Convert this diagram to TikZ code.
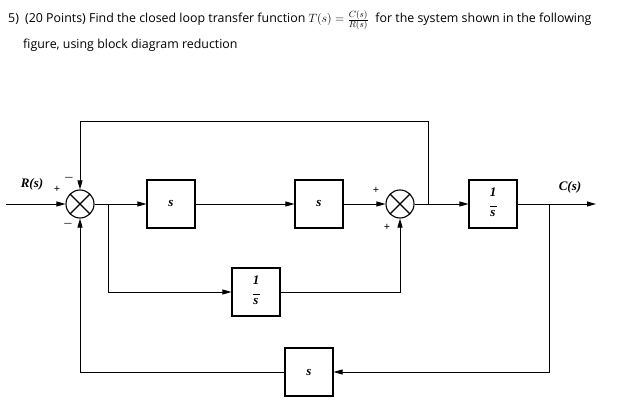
\documentclass[tikz,border=0pt]{standalone}
\usepackage{amsmath}
\usepackage{fontspec}
\setmainfont{Liberation Serif}
\newfontfamily\hdr{Open Sans}
\usetikzlibrary{arrows.meta}
\newcommand{\fr}{\ensuremath{\vcenter{\hbox{\begin{tabular}{@{}c@{}}\bfseries\itshape 1\\[-3pt]\rule{7pt}{0.6pt}\\[-3pt]\bfseries\itshape s\end{tabular}}}}}
\begin{document}
\begin{tikzpicture}[x=1pt,y=-1pt,
  blk/.style={draw,line width=1.1pt,minimum width=48pt,minimum height=48pt,inner sep=0pt,font=\itshape\bfseries\fontsize{13}{13}\selectfont},
  sum/.style={draw,circle,line width=1.1pt,minimum size=28pt,inner sep=0pt,path picture={\draw[line width=1.1pt] (path picture bounding box.north west)--(path picture bounding box.south east) (path picture bounding box.north east)--(path picture bounding box.south west);}},
  ln/.style={line width=0.9pt},
  ar/.style={ln,-{Triangle[length=9pt,width=5pt]}},
  sg/.style={font=\bfseries\fontsize{11}{11}\selectfont}]
\useasboundingbox (0,0) rectangle (626,403);
\node[anchor=base west,inner sep=0pt,font=\hdr\fontsize{12.4}{14}\selectfont] (t1) at (8,23) {5)\enspace(20 Points) Find the closed loop transfer function $T(s)=\genfrac{}{}{0.4pt}{}{\scriptstyle C(s)}{\scriptstyle R(s)}$\; for the system shown in the following};
\node[anchor=base west,inner sep=0pt,font=\hdr\fontsize{12.4}{14}\selectfont] (t2) at (23,49) {figure, using block diagram reduction};
\node[sum] (s1) at (80,204) {};
\node[sum] (s2) at (400,204) {};
\node[blk] (b1) at (171,204) {s};
\node[blk] (b2) at (319,204) {s};
\node[blk] (b3) at (493,204) {\fr};
\node[blk] (b4) at (256,292) {\fr};
\node[blk] (b5) at (309,372) {s};
\coordinate (in) at (6,204);
\coordinate (out) at (596,204);
\coordinate (j1) at (108,204);
\coordinate (j2) at (428,204);
\coordinate (j3) at (549,204);
\draw[ar] (in) -- (s1);
\draw[ar] (s1) -- (b1);
\draw[ar] (b1) -- (b2);
\draw[ar] (b2) -- (s2);
\draw[ar] (s2) -- (b3);
\draw[ar] (b3) -- (out);
\draw[ar] (j2) |- (80,121) -- (s1);
\draw[ar] (j1) |- (b4);
\draw[ar] (b4) -| (s2);
\draw[ar] (j3) |- (b5);
\draw[ar] (b5) -| (s1);
\node[font=\itshape\bfseries\fontsize{13}{13}\selectfont] (r) at (32,184) {R(s)};
\node[font=\itshape\bfseries\fontsize{13}{13}\selectfont] (c) at (570,187) {C(s)};
\node[sg] (p1) at (57,189) {+};
\node[sg] (m1) at (69,178) {$\boldsymbol{-}$};
\node[sg] (m2) at (68,224) {$\boldsymbol{-}$};
\node[sg] (p2) at (376,190) {+};
\node[sg] (p3) at (387,227) {+};
\end{tikzpicture}
\end{document}
